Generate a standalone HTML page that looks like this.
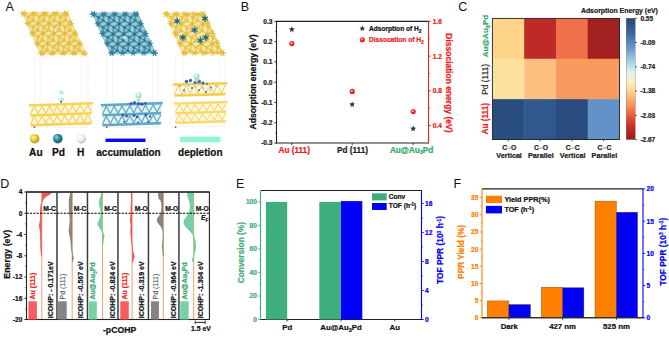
<!DOCTYPE html><html><head><meta charset="utf-8"><style>html,body{margin:0;padding:0;background:#fff;width:669px;height:337px;overflow:hidden}svg{display:block}text{font-family:"Liberation Sans",sans-serif}</style></head><body>
<svg width="669" height="337" viewBox="0 0 669 337">
<rect width="669" height="337" fill="#fff"/>
<text x="5.50" y="10.70" font-size="12.5" font-weight="normal" fill="#111" text-anchor="start" >A</text>
<text x="240.80" y="10.80" font-size="12.5" font-weight="normal" fill="#111" text-anchor="start" >B</text>
<text x="458.20" y="10.90" font-size="12.5" font-weight="normal" fill="#111" text-anchor="start" >C</text>
<text x="0.20" y="188.00" font-size="12.5" font-weight="normal" fill="#111" text-anchor="start" >D</text>
<text x="235.90" y="187.90" font-size="12.5" font-weight="normal" fill="#111" text-anchor="start" >E</text>
<text x="453.50" y="187.90" font-size="12.5" font-weight="normal" fill="#111" text-anchor="start" >F</text>
<line x1="276.50" y1="21.40" x2="428.50" y2="21.40" stroke="#222" stroke-width="1.1" />
<line x1="276.50" y1="20.90" x2="276.50" y2="143.50" stroke="#222" stroke-width="1.1" />
<line x1="276.50" y1="143.00" x2="428.50" y2="143.00" stroke="#222" stroke-width="1.1" />
<line x1="428.50" y1="20.90" x2="428.50" y2="143.50" stroke="#F01C1C" stroke-width="1.1" />
<line x1="274.30" y1="21.40" x2="276.50" y2="21.40" stroke="#222" stroke-width="0.9" />
<text x="272.50" y="23.80" font-size="6.6" font-weight="bold" fill="#222" text-anchor="end" stroke="#222" stroke-width="0.22" >0.3</text>
<line x1="275.30" y1="31.53" x2="276.50" y2="31.53" stroke="#222" stroke-width="0.8" />
<line x1="274.30" y1="41.67" x2="276.50" y2="41.67" stroke="#222" stroke-width="0.9" />
<text x="272.50" y="44.07" font-size="6.6" font-weight="bold" fill="#222" text-anchor="end" stroke="#222" stroke-width="0.22" >0.2</text>
<line x1="275.30" y1="51.80" x2="276.50" y2="51.80" stroke="#222" stroke-width="0.8" />
<line x1="274.30" y1="61.93" x2="276.50" y2="61.93" stroke="#222" stroke-width="0.9" />
<text x="272.50" y="64.33" font-size="6.6" font-weight="bold" fill="#222" text-anchor="end" stroke="#222" stroke-width="0.22" >0.1</text>
<line x1="275.30" y1="72.07" x2="276.50" y2="72.07" stroke="#222" stroke-width="0.8" />
<line x1="274.30" y1="82.20" x2="276.50" y2="82.20" stroke="#222" stroke-width="0.9" />
<text x="272.50" y="84.60" font-size="6.6" font-weight="bold" fill="#222" text-anchor="end" stroke="#222" stroke-width="0.22" >0.0</text>
<line x1="275.30" y1="92.33" x2="276.50" y2="92.33" stroke="#222" stroke-width="0.8" />
<line x1="274.30" y1="102.47" x2="276.50" y2="102.47" stroke="#222" stroke-width="0.9" />
<text x="272.50" y="104.87" font-size="6.6" font-weight="bold" fill="#222" text-anchor="end" stroke="#222" stroke-width="0.22" >-0.1</text>
<line x1="275.30" y1="112.60" x2="276.50" y2="112.60" stroke="#222" stroke-width="0.8" />
<line x1="274.30" y1="122.73" x2="276.50" y2="122.73" stroke="#222" stroke-width="0.9" />
<text x="272.50" y="125.13" font-size="6.6" font-weight="bold" fill="#222" text-anchor="end" stroke="#222" stroke-width="0.22" >-0.2</text>
<line x1="275.30" y1="132.87" x2="276.50" y2="132.87" stroke="#222" stroke-width="0.8" />
<line x1="274.30" y1="143.00" x2="276.50" y2="143.00" stroke="#222" stroke-width="0.9" />
<text x="272.50" y="145.40" font-size="6.6" font-weight="bold" fill="#222" text-anchor="end" stroke="#222" stroke-width="0.22" >-0.3</text>
<line x1="428.50" y1="21.40" x2="430.70" y2="21.40" stroke="#F01C1C" stroke-width="0.9" />
<text x="432.70" y="23.80" font-size="6.6" font-weight="bold" fill="#F01C1C" text-anchor="start" stroke="#F01C1C" stroke-width="0.22" >1.6</text>
<line x1="428.50" y1="56.10" x2="430.70" y2="56.10" stroke="#F01C1C" stroke-width="0.9" />
<text x="432.70" y="58.50" font-size="6.6" font-weight="bold" fill="#F01C1C" text-anchor="start" stroke="#F01C1C" stroke-width="0.22" >1.2</text>
<line x1="428.50" y1="90.80" x2="430.70" y2="90.80" stroke="#F01C1C" stroke-width="0.9" />
<text x="432.70" y="93.20" font-size="6.6" font-weight="bold" fill="#F01C1C" text-anchor="start" stroke="#F01C1C" stroke-width="0.22" >0.8</text>
<line x1="428.50" y1="125.50" x2="430.70" y2="125.50" stroke="#F01C1C" stroke-width="0.9" />
<text x="432.70" y="127.90" font-size="6.6" font-weight="bold" fill="#F01C1C" text-anchor="start" stroke="#F01C1C" stroke-width="0.22" >0.4</text>
<line x1="428.50" y1="38.75" x2="429.80" y2="38.75" stroke="#F01C1C" stroke-width="0.8" />
<line x1="428.50" y1="73.45" x2="429.80" y2="73.45" stroke="#F01C1C" stroke-width="0.8" />
<line x1="428.50" y1="108.15" x2="429.80" y2="108.15" stroke="#F01C1C" stroke-width="0.8" />
<line x1="291.80" y1="143.00" x2="291.80" y2="145.00" stroke="#222" stroke-width="0.9" />
<line x1="352.20" y1="143.00" x2="352.20" y2="145.00" stroke="#222" stroke-width="0.9" />
<line x1="413.20" y1="143.00" x2="413.20" y2="145.00" stroke="#222" stroke-width="0.9" />
<text x="294.20" y="152.60" font-size="8.2" font-weight="bold" fill="#F01C1C" text-anchor="middle" stroke="#F01C1C" stroke-width="0.22" >Au (111)</text>
<text x="352.50" y="152.60" font-size="8.2" font-weight="bold" fill="#222" text-anchor="middle" stroke="#222" stroke-width="0.22" >Pd (111)</text>
<text x="411.60" y="152.60" font-size="8.2" font-weight="bold" fill="#2FA86A" text-anchor="middle" stroke="#2FA86A" stroke-width="0.22" >Au@Au<tspan font-size="5.6" dy="1.6">3</tspan><tspan dy="-1.6">Pd</tspan></text>
<text x="256.20" y="81.90" font-size="8.6" font-weight="bold" fill="#111" text-anchor="middle" transform="rotate(-90 256.2 81.9)" stroke="#111" stroke-width="0.22" >Adsorption energy (eV)</text>
<text x="446.00" y="82.90" font-size="8.5" font-weight="bold" fill="#F01C1C" text-anchor="middle" transform="rotate(90 446.0 82.9)" stroke="#F01C1C" stroke-width="0.22" >Dissociation energy (eV)</text>
<defs><radialGradient id="rball" cx="0.42" cy="0.4" r="0.62"><stop offset="0" stop-color="#fff4f4"/><stop offset="0.25" stop-color="#ff8080"/><stop offset="0.5" stop-color="#f22"/><stop offset="1" stop-color="#e01010"/></radialGradient></defs>
<polygon points="291.80,26.40 292.64,28.35 294.75,28.54 293.16,29.94 293.62,32.01 291.80,30.93 289.98,32.01 290.44,29.94 288.85,28.54 290.96,28.35" fill="#383838"/>
<circle cx="291.8" cy="43.6" r="2.55" fill="url(#rball)"/>
<polygon points="352.20,101.40 353.04,103.35 355.15,103.54 353.56,104.94 354.02,107.01 352.20,105.93 350.38,107.01 350.84,104.94 349.25,103.54 351.36,103.35" fill="#383838"/>
<circle cx="352.2" cy="91.4" r="2.55" fill="url(#rball)"/>
<polygon points="413.20,125.60 414.04,127.55 416.15,127.74 414.56,129.14 415.02,131.21 413.20,130.13 411.38,131.21 411.84,129.14 410.25,127.74 412.36,127.55" fill="#383838"/>
<circle cx="413.2" cy="111.5" r="2.55" fill="url(#rball)"/>
<polygon points="362.30,25.50 363.14,27.45 365.25,27.64 363.66,29.04 364.12,31.11 362.30,30.03 360.48,31.11 360.94,29.04 359.35,27.64 361.46,27.45" fill="#383838"/>
<text x="369.00" y="31.00" font-size="6.6" font-weight="bold" fill="#111" text-anchor="start" stroke="#111" stroke-width="0.22" >Adsorption of H<tspan font-size="5" dy="1.5">2</tspan></text>
<circle cx="362.3" cy="39.7" r="2.55" fill="url(#rball)"/>
<text x="369.00" y="42.00" font-size="6.6" font-weight="bold" fill="#F01C1C" text-anchor="start" stroke="#F01C1C" stroke-width="0.22" >Dissocation of H<tspan font-size="5" dy="1.5">2</tspan></text>
<rect x="492.40" y="18.40" width="32.08" height="40.67" fill="#FDD48A" />
<rect x="524.17" y="18.40" width="32.08" height="40.67" fill="#BE2A25" />
<rect x="555.95" y="18.40" width="32.08" height="40.67" fill="#EF7049" />
<rect x="587.73" y="18.40" width="32.08" height="40.67" fill="#A2201F" />
<rect x="492.40" y="58.77" width="32.08" height="40.67" fill="#FCE19E" />
<rect x="524.17" y="58.77" width="32.08" height="40.67" fill="#FDC080" />
<rect x="555.95" y="58.77" width="32.08" height="40.67" fill="#F99B5E" />
<rect x="587.73" y="58.77" width="32.08" height="40.67" fill="#F99B5E" />
<rect x="492.40" y="99.13" width="32.08" height="40.67" fill="#2A4D80" />
<rect x="524.17" y="99.13" width="32.08" height="40.67" fill="#30578E" />
<rect x="555.95" y="99.13" width="32.08" height="40.67" fill="#2A4B7E" />
<rect x="587.73" y="99.13" width="32.08" height="40.67" fill="#6292C8" />
<rect x="492.4" y="18.4" width="127.10000000000002" height="121.1" fill="none" stroke="#222" stroke-width="0.9"/>
<line x1="508.29" y1="139.50" x2="508.29" y2="141.30" stroke="#222" stroke-width="0.8" />
<line x1="540.06" y1="139.50" x2="540.06" y2="141.30" stroke="#222" stroke-width="0.8" />
<line x1="571.84" y1="139.50" x2="571.84" y2="141.30" stroke="#222" stroke-width="0.8" />
<line x1="603.61" y1="139.50" x2="603.61" y2="141.30" stroke="#222" stroke-width="0.8" />
<text x="507.19" y="149.70" font-size="6.8" font-weight="bold" fill="#222" text-anchor="end" stroke="#222" stroke-width="0.22" >C</text>
<text x="511.09" y="149.70" font-size="6.8" font-weight="bold" fill="#222" text-anchor="start" stroke="#222" stroke-width="0.22" >O</text>
<rect x="507.19" y="147.20" width="3.90" height="1.80" fill="#C4C4C4" />
<text x="509.09" y="158.20" font-size="7.2" font-weight="bold" fill="#222" text-anchor="middle" stroke="#222" stroke-width="0.22" >Vertical</text>
<text x="538.96" y="149.70" font-size="6.8" font-weight="bold" fill="#222" text-anchor="end" stroke="#222" stroke-width="0.22" >C</text>
<text x="542.86" y="149.70" font-size="6.8" font-weight="bold" fill="#222" text-anchor="start" stroke="#222" stroke-width="0.22" >O</text>
<rect x="538.96" y="147.20" width="3.90" height="1.80" fill="#C4C4C4" />
<text x="540.86" y="158.20" font-size="7.2" font-weight="bold" fill="#222" text-anchor="middle" stroke="#222" stroke-width="0.22" >Parallel</text>
<text x="570.74" y="149.70" font-size="6.8" font-weight="bold" fill="#222" text-anchor="end" stroke="#222" stroke-width="0.22" >C</text>
<text x="574.64" y="149.70" font-size="6.8" font-weight="bold" fill="#222" text-anchor="start" stroke="#222" stroke-width="0.22" >C</text>
<rect x="570.74" y="147.20" width="3.90" height="1.80" fill="#C4C4C4" />
<text x="572.64" y="158.20" font-size="7.2" font-weight="bold" fill="#222" text-anchor="middle" stroke="#222" stroke-width="0.22" >Vertical</text>
<text x="602.51" y="149.70" font-size="6.8" font-weight="bold" fill="#222" text-anchor="end" stroke="#222" stroke-width="0.22" >C</text>
<text x="606.41" y="149.70" font-size="6.8" font-weight="bold" fill="#222" text-anchor="start" stroke="#222" stroke-width="0.22" >C</text>
<rect x="602.51" y="147.20" width="3.90" height="1.80" fill="#C4C4C4" />
<text x="604.41" y="158.20" font-size="7.2" font-weight="bold" fill="#222" text-anchor="middle" stroke="#222" stroke-width="0.22" >Parallel</text>
<text x="488.20" y="36.10" font-size="8.0" font-weight="bold" fill="#2FA86A" text-anchor="middle" transform="rotate(-90 488.2 36.1)" stroke="#2FA86A" stroke-width="0.22" >Au@Au<tspan font-size="5.6" dy="1.6">3</tspan><tspan dy="-1.6">Pd</tspan></text>
<text x="488.20" y="79.30" font-size="8.4" font-weight="normal" fill="#222" text-anchor="middle" transform="rotate(-90 488.2 79.3)" stroke="#222" stroke-width="0.132" >Pd (111)</text>
<text x="488.20" y="118.70" font-size="8.2" font-weight="bold" fill="#F01C1C" text-anchor="middle" transform="rotate(-90 488.2 118.7)" stroke="#F01C1C" stroke-width="0.22" >Au (111)</text>
<defs><linearGradient id="cbar" x1="0" y1="0" x2="0" y2="1"><stop offset="0" stop-color="#26467A"/><stop offset="0.12" stop-color="#3A64A0"/><stop offset="0.25" stop-color="#6A9ACB"/><stop offset="0.36" stop-color="#A8D0E6"/><stop offset="0.45" stop-color="#E2F2F4"/><stop offset="0.53" stop-color="#FBF0B8"/><stop offset="0.62" stop-color="#FDCB80"/><stop offset="0.72" stop-color="#F7905A"/><stop offset="0.83" stop-color="#DE4A35"/><stop offset="0.93" stop-color="#B82225"/><stop offset="1" stop-color="#9C1C20"/></linearGradient></defs>
<rect x="626.2" y="18.2" width="9.0" height="121.39999999999999" fill="url(#cbar)" stroke="#555" stroke-width="0.3"/>
<line x1="635.20" y1="18.20" x2="637.00" y2="18.20" stroke="#222" stroke-width="0.8" />
<text x="640.40" y="20.50" font-size="6.5" font-weight="bold" fill="#222" text-anchor="start" stroke="#222" stroke-width="0.22" >0.55</text>
<line x1="635.20" y1="42.48" x2="637.00" y2="42.48" stroke="#222" stroke-width="0.8" />
<text x="640.40" y="44.78" font-size="6.5" font-weight="bold" fill="#222" text-anchor="start" stroke="#222" stroke-width="0.22" >-0.09</text>
<line x1="635.20" y1="66.76" x2="637.00" y2="66.76" stroke="#222" stroke-width="0.8" />
<text x="640.40" y="69.06" font-size="6.5" font-weight="bold" fill="#222" text-anchor="start" stroke="#222" stroke-width="0.22" >-0.74</text>
<line x1="635.20" y1="91.04" x2="637.00" y2="91.04" stroke="#222" stroke-width="0.8" />
<text x="640.40" y="93.34" font-size="6.5" font-weight="bold" fill="#222" text-anchor="start" stroke="#222" stroke-width="0.22" >-1.38</text>
<line x1="635.20" y1="115.32" x2="637.00" y2="115.32" stroke="#222" stroke-width="0.8" />
<text x="640.40" y="117.62" font-size="6.5" font-weight="bold" fill="#222" text-anchor="start" stroke="#222" stroke-width="0.22" >-2.03</text>
<line x1="635.20" y1="139.60" x2="637.00" y2="139.60" stroke="#222" stroke-width="0.8" />
<text x="640.40" y="141.90" font-size="6.5" font-weight="bold" fill="#222" text-anchor="start" stroke="#222" stroke-width="0.22" >-2.67</text>
<text x="657.90" y="13.20" font-size="6.9" font-weight="bold" fill="#222" text-anchor="end" stroke="#222" stroke-width="0.22" >Adsorption Energy (eV)</text>
<line x1="260.50" y1="190.50" x2="421.50" y2="190.50" stroke="#222" stroke-width="1.1" />
<line x1="260.50" y1="319.50" x2="421.50" y2="319.50" stroke="#222" stroke-width="1.1" />
<line x1="260.50" y1="190.00" x2="260.50" y2="320.00" stroke="#3DAE7C" stroke-width="1.1" />
<line x1="421.50" y1="190.00" x2="421.50" y2="320.00" stroke="#0000F5" stroke-width="1.1" />
<line x1="258.30" y1="319.50" x2="260.50" y2="319.50" stroke="#3DAE7C" stroke-width="0.9" />
<text x="256.90" y="321.90" font-size="6.6" font-weight="bold" fill="#3DAE7C" text-anchor="end" stroke="#3DAE7C" stroke-width="0.22" >0</text>
<line x1="259.30" y1="307.74" x2="260.50" y2="307.74" stroke="#3DAE7C" stroke-width="0.8" />
<line x1="258.30" y1="295.98" x2="260.50" y2="295.98" stroke="#3DAE7C" stroke-width="0.9" />
<text x="256.90" y="298.38" font-size="6.6" font-weight="bold" fill="#3DAE7C" text-anchor="end" stroke="#3DAE7C" stroke-width="0.22" >20</text>
<line x1="259.30" y1="284.22" x2="260.50" y2="284.22" stroke="#3DAE7C" stroke-width="0.8" />
<line x1="258.30" y1="272.46" x2="260.50" y2="272.46" stroke="#3DAE7C" stroke-width="0.9" />
<text x="256.90" y="274.86" font-size="6.6" font-weight="bold" fill="#3DAE7C" text-anchor="end" stroke="#3DAE7C" stroke-width="0.22" >40</text>
<line x1="259.30" y1="260.70" x2="260.50" y2="260.70" stroke="#3DAE7C" stroke-width="0.8" />
<line x1="258.30" y1="248.94" x2="260.50" y2="248.94" stroke="#3DAE7C" stroke-width="0.9" />
<text x="256.90" y="251.34" font-size="6.6" font-weight="bold" fill="#3DAE7C" text-anchor="end" stroke="#3DAE7C" stroke-width="0.22" >60</text>
<line x1="259.30" y1="237.18" x2="260.50" y2="237.18" stroke="#3DAE7C" stroke-width="0.8" />
<line x1="258.30" y1="225.42" x2="260.50" y2="225.42" stroke="#3DAE7C" stroke-width="0.9" />
<text x="256.90" y="227.82" font-size="6.6" font-weight="bold" fill="#3DAE7C" text-anchor="end" stroke="#3DAE7C" stroke-width="0.22" >80</text>
<line x1="259.30" y1="213.66" x2="260.50" y2="213.66" stroke="#3DAE7C" stroke-width="0.8" />
<line x1="258.30" y1="201.90" x2="260.50" y2="201.90" stroke="#3DAE7C" stroke-width="0.9" />
<text x="256.90" y="204.30" font-size="6.6" font-weight="bold" fill="#3DAE7C" text-anchor="end" stroke="#3DAE7C" stroke-width="0.22" >100</text>
<line x1="421.50" y1="319.50" x2="423.70" y2="319.50" stroke="#0000F5" stroke-width="0.9" />
<text x="425.10" y="321.90" font-size="6.6" font-weight="bold" fill="#0000F5" text-anchor="start" stroke="#0000F5" stroke-width="0.22" >0</text>
<line x1="421.50" y1="305.00" x2="422.70" y2="305.00" stroke="#0000F5" stroke-width="0.8" />
<line x1="421.50" y1="290.50" x2="423.70" y2="290.50" stroke="#0000F5" stroke-width="0.9" />
<text x="425.10" y="292.90" font-size="6.6" font-weight="bold" fill="#0000F5" text-anchor="start" stroke="#0000F5" stroke-width="0.22" >4</text>
<line x1="421.50" y1="276.00" x2="422.70" y2="276.00" stroke="#0000F5" stroke-width="0.8" />
<line x1="421.50" y1="261.50" x2="423.70" y2="261.50" stroke="#0000F5" stroke-width="0.9" />
<text x="425.10" y="263.90" font-size="6.6" font-weight="bold" fill="#0000F5" text-anchor="start" stroke="#0000F5" stroke-width="0.22" >8</text>
<line x1="421.50" y1="247.00" x2="422.70" y2="247.00" stroke="#0000F5" stroke-width="0.8" />
<line x1="421.50" y1="232.50" x2="423.70" y2="232.50" stroke="#0000F5" stroke-width="0.9" />
<text x="425.10" y="234.90" font-size="6.6" font-weight="bold" fill="#0000F5" text-anchor="start" stroke="#0000F5" stroke-width="0.22" >12</text>
<line x1="421.50" y1="218.00" x2="422.70" y2="218.00" stroke="#0000F5" stroke-width="0.8" />
<line x1="421.50" y1="203.50" x2="423.70" y2="203.50" stroke="#0000F5" stroke-width="0.9" />
<text x="425.10" y="205.90" font-size="6.6" font-weight="bold" fill="#0000F5" text-anchor="start" stroke="#0000F5" stroke-width="0.22" >16</text>
<rect x="265.90" y="201.90" width="21.30" height="117.60" fill="#3DAE7C" />
<rect x="319.30" y="201.90" width="21.60" height="117.60" fill="#3DAE7C" />
<rect x="340.90" y="201.10" width="21.40" height="118.40" fill="#0000F5" />
<line x1="287.10" y1="319.50" x2="287.10" y2="321.50" stroke="#222" stroke-width="0.9" />
<line x1="341.00" y1="319.50" x2="341.00" y2="321.50" stroke="#222" stroke-width="0.9" />
<line x1="394.80" y1="319.50" x2="394.80" y2="321.50" stroke="#222" stroke-width="0.9" />
<text x="287.20" y="330.00" font-size="7.8" font-weight="bold" fill="#111" text-anchor="middle" stroke="#111" stroke-width="0.22" >Pd</text>
<text x="341.00" y="330.00" font-size="7.8" font-weight="bold" fill="#111" text-anchor="middle" stroke="#111" stroke-width="0.22" >Au@Au<tspan font-size="5.4" dy="1.6">3</tspan><tspan dy="-1.6">Pd</tspan></text>
<text x="394.80" y="330.00" font-size="7.8" font-weight="bold" fill="#111" text-anchor="middle" stroke="#111" stroke-width="0.22" >Au</text>
<text x="244.00" y="252.60" font-size="8.4" font-weight="bold" fill="#3DAE7C" text-anchor="middle" transform="rotate(-90 244.0 252.6)" stroke="#3DAE7C" stroke-width="0.22" >Conversion (%)</text>
<text x="443.30" y="250.00" font-size="8.4" font-weight="bold" fill="#0000F5" text-anchor="middle" transform="rotate(-90 443.3 250.0)" stroke="#0000F5" stroke-width="0.22" >TOF PPR (10<tspan font-size="5" dy="-2.5">3</tspan><tspan dy="2.5"> h</tspan><tspan font-size="5" dy="-2.5">-1</tspan><tspan dy="2.5">)</tspan></text>
<rect x="372.00" y="193.30" width="14.70" height="7.10" fill="#3DAE7C" />
<rect x="372.00" y="203.00" width="14.70" height="7.00" fill="#0000F5" />
<text x="388.80" y="199.00" font-size="6.6" font-weight="bold" fill="#111" text-anchor="start" stroke="#111" stroke-width="0.22" >Conv</text>
<text x="388.80" y="208.20" font-size="6.6" font-weight="bold" fill="#111" text-anchor="start" stroke="#111" stroke-width="0.22" >TOF (h<tspan font-size="4.6" dy="-2.3">-1</tspan><tspan dy="2.3">)</tspan></text>
<line x1="482.00" y1="188.90" x2="643.00" y2="188.90" stroke="#222" stroke-width="1.1" />
<line x1="482.00" y1="317.80" x2="643.00" y2="317.80" stroke="#222" stroke-width="1.1" />
<line x1="482.00" y1="188.40" x2="482.00" y2="318.30" stroke="#FF8000" stroke-width="1.1" />
<line x1="643.00" y1="188.40" x2="643.00" y2="318.30" stroke="#0000F5" stroke-width="1.1" />
<line x1="479.80" y1="317.80" x2="482.00" y2="317.80" stroke="#FF8000" stroke-width="0.9" />
<text x="478.40" y="320.20" font-size="6.6" font-weight="bold" fill="#FF8000" text-anchor="end" stroke="#FF8000" stroke-width="0.22" >0</text>
<line x1="480.80" y1="309.21" x2="482.00" y2="309.21" stroke="#FF8000" stroke-width="0.8" />
<line x1="479.80" y1="300.63" x2="482.00" y2="300.63" stroke="#FF8000" stroke-width="0.9" />
<text x="478.40" y="303.03" font-size="6.6" font-weight="bold" fill="#FF8000" text-anchor="end" stroke="#FF8000" stroke-width="0.22" >5</text>
<line x1="480.80" y1="292.04" x2="482.00" y2="292.04" stroke="#FF8000" stroke-width="0.8" />
<line x1="479.80" y1="283.46" x2="482.00" y2="283.46" stroke="#FF8000" stroke-width="0.9" />
<text x="478.40" y="285.86" font-size="6.6" font-weight="bold" fill="#FF8000" text-anchor="end" stroke="#FF8000" stroke-width="0.22" >10</text>
<line x1="480.80" y1="274.87" x2="482.00" y2="274.87" stroke="#FF8000" stroke-width="0.8" />
<line x1="479.80" y1="266.29" x2="482.00" y2="266.29" stroke="#FF8000" stroke-width="0.9" />
<text x="478.40" y="268.69" font-size="6.6" font-weight="bold" fill="#FF8000" text-anchor="end" stroke="#FF8000" stroke-width="0.22" >15</text>
<line x1="480.80" y1="257.70" x2="482.00" y2="257.70" stroke="#FF8000" stroke-width="0.8" />
<line x1="479.80" y1="249.11" x2="482.00" y2="249.11" stroke="#FF8000" stroke-width="0.9" />
<text x="478.40" y="251.51" font-size="6.6" font-weight="bold" fill="#FF8000" text-anchor="end" stroke="#FF8000" stroke-width="0.22" >20</text>
<line x1="480.80" y1="240.53" x2="482.00" y2="240.53" stroke="#FF8000" stroke-width="0.8" />
<line x1="479.80" y1="231.94" x2="482.00" y2="231.94" stroke="#FF8000" stroke-width="0.9" />
<text x="478.40" y="234.34" font-size="6.6" font-weight="bold" fill="#FF8000" text-anchor="end" stroke="#FF8000" stroke-width="0.22" >25</text>
<line x1="480.80" y1="223.36" x2="482.00" y2="223.36" stroke="#FF8000" stroke-width="0.8" />
<line x1="479.80" y1="214.77" x2="482.00" y2="214.77" stroke="#FF8000" stroke-width="0.9" />
<text x="478.40" y="217.17" font-size="6.6" font-weight="bold" fill="#FF8000" text-anchor="end" stroke="#FF8000" stroke-width="0.22" >30</text>
<line x1="480.80" y1="206.19" x2="482.00" y2="206.19" stroke="#FF8000" stroke-width="0.8" />
<line x1="479.80" y1="197.60" x2="482.00" y2="197.60" stroke="#FF8000" stroke-width="0.9" />
<text x="478.40" y="200.00" font-size="6.6" font-weight="bold" fill="#FF8000" text-anchor="end" stroke="#FF8000" stroke-width="0.22" >35</text>
<line x1="643.00" y1="317.80" x2="645.20" y2="317.80" stroke="#0000F5" stroke-width="0.9" />
<text x="646.60" y="320.20" font-size="6.6" font-weight="bold" fill="#0000F5" text-anchor="start" stroke="#0000F5" stroke-width="0.22" >0</text>
<line x1="643.00" y1="301.69" x2="644.20" y2="301.69" stroke="#0000F5" stroke-width="0.8" />
<line x1="643.00" y1="285.57" x2="645.20" y2="285.57" stroke="#0000F5" stroke-width="0.9" />
<text x="646.60" y="287.97" font-size="6.6" font-weight="bold" fill="#0000F5" text-anchor="start" stroke="#0000F5" stroke-width="0.22" >5</text>
<line x1="643.00" y1="269.46" x2="644.20" y2="269.46" stroke="#0000F5" stroke-width="0.8" />
<line x1="643.00" y1="253.35" x2="645.20" y2="253.35" stroke="#0000F5" stroke-width="0.9" />
<text x="646.60" y="255.75" font-size="6.6" font-weight="bold" fill="#0000F5" text-anchor="start" stroke="#0000F5" stroke-width="0.22" >10</text>
<line x1="643.00" y1="237.24" x2="644.20" y2="237.24" stroke="#0000F5" stroke-width="0.8" />
<line x1="643.00" y1="221.12" x2="645.20" y2="221.12" stroke="#0000F5" stroke-width="0.9" />
<text x="646.60" y="223.53" font-size="6.6" font-weight="bold" fill="#0000F5" text-anchor="start" stroke="#0000F5" stroke-width="0.22" >15</text>
<line x1="643.00" y1="205.01" x2="644.20" y2="205.01" stroke="#0000F5" stroke-width="0.8" />
<line x1="643.00" y1="188.90" x2="645.20" y2="188.90" stroke="#0000F5" stroke-width="0.9" />
<text x="646.60" y="191.30" font-size="6.6" font-weight="bold" fill="#0000F5" text-anchor="start" stroke="#0000F5" stroke-width="0.22" >20</text>
<rect x="487.30" y="300.90" width="21.60" height="16.90" fill="#FF8000" stroke="#6a3a10" stroke-width="0.35"/>
<rect x="508.90" y="304.50" width="21.60" height="13.30" fill="#0000F5" stroke="#6a3a10" stroke-width="0.35"/>
<rect x="541.30" y="287.20" width="21.40" height="30.60" fill="#FF8000" stroke="#6a3a10" stroke-width="0.35"/>
<rect x="562.70" y="287.70" width="21.20" height="30.10" fill="#0000F5" stroke="#6a3a10" stroke-width="0.35"/>
<rect x="595.00" y="201.10" width="21.40" height="116.70" fill="#FF8000" stroke="#6a3a10" stroke-width="0.35"/>
<rect x="616.40" y="212.20" width="21.20" height="105.60" fill="#0000F5" stroke="#6a3a10" stroke-width="0.35"/>
<line x1="482.00" y1="317.80" x2="643.00" y2="317.80" stroke="#222" stroke-width="1.1" />
<line x1="508.90" y1="317.80" x2="508.90" y2="319.80" stroke="#222" stroke-width="0.9" />
<line x1="562.70" y1="317.80" x2="562.70" y2="319.80" stroke="#222" stroke-width="0.9" />
<line x1="616.40" y1="317.80" x2="616.40" y2="319.80" stroke="#222" stroke-width="0.9" />
<text x="509.30" y="328.80" font-size="7.7" font-weight="bold" fill="#111" text-anchor="middle" stroke="#111" stroke-width="0.22" >Dark</text>
<text x="562.60" y="328.80" font-size="7.8" font-weight="bold" fill="#111" text-anchor="middle" stroke="#111" stroke-width="0.22" >427 nm</text>
<text x="616.40" y="328.80" font-size="7.8" font-weight="bold" fill="#111" text-anchor="middle" stroke="#111" stroke-width="0.22" >525 nm</text>
<text x="463.60" y="251.90" font-size="8.3" font-weight="bold" fill="#FF8000" text-anchor="middle" transform="rotate(-90 463.6 251.9)" stroke="#FF8000" stroke-width="0.22" >PPR Yield (%)</text>
<text x="665.70" y="251.60" font-size="8.4" font-weight="bold" fill="#0000F5" text-anchor="middle" transform="rotate(-90 665.7 251.6)" stroke="#0000F5" stroke-width="0.22" >TOF PPR (10<tspan font-size="5" dy="-2.5">3</tspan><tspan dy="2.5"> h</tspan><tspan font-size="5" dy="-2.5">-1</tspan><tspan dy="2.5">)</tspan></text>
<rect x="485.90" y="195.70" width="16.10" height="7.30" fill="#FF8000" />
<rect x="485.90" y="205.90" width="16.10" height="7.50" fill="#0000F5" />
<text x="504.40" y="201.90" font-size="7.3" font-weight="bold" fill="#111" text-anchor="start" stroke="#111" stroke-width="0.22" >Yield PPR(%)</text>
<text x="504.40" y="212.10" font-size="7.2" font-weight="bold" fill="#111" text-anchor="start" stroke="#111" stroke-width="0.22" >TOF (h<tspan font-size="4.9" dy="-2.4">-1</tspan><tspan dy="2.4">)</tspan></text>
<line x1="41.80" y1="192.00" x2="41.80" y2="319.50" stroke="#F0A468" stroke-width="1.0" />
<polygon points="41.80,192.40 51.40,192.40 50.60,193.60 48.60,195.00 46.00,196.50 44.20,198.00 43.20,199.50 42.20,201.50 41.20,204.00 40.70,208.00 40.50,214.00 40.40,220.00 39.90,223.00 39.20,225.50 39.80,228.00 40.50,232.00 40.70,240.00 40.80,248.00 41.20,253.00 41.80,256.00 41.80,256.00" fill="#F45858"/>
<polyline points="51.40,192.40 50.60,193.60 48.60,195.00 46.00,196.50 44.20,198.00 43.20,199.50 42.20,201.50 41.20,204.00 40.70,208.00 40.50,214.00 40.40,220.00 39.90,223.00 39.20,225.50 39.80,228.00 40.50,232.00 40.70,240.00 40.80,248.00 41.20,253.00 41.80,256.00" fill="none" stroke="#F2474A" stroke-width="0.8"/>
<line x1="72.20" y1="192.00" x2="72.20" y2="319.50" stroke="#F0A468" stroke-width="1.0" />
<polygon points="72.20,192.40 70.80,192.40 70.00,196.00 69.40,200.00 69.20,206.00 69.60,213.00 70.20,219.00 69.80,225.00 69.00,230.00 69.80,235.00 71.00,241.00 71.40,248.00 72.40,254.00 73.40,258.00 72.20,262.00 72.20,262.00" fill="#858585"/>
<polyline points="70.80,192.40 70.00,196.00 69.40,200.00 69.20,206.00 69.60,213.00 70.20,219.00 69.80,225.00 69.00,230.00 69.80,235.00 71.00,241.00 71.40,248.00 72.40,254.00 73.40,258.00 72.20,262.00" fill="none" stroke="#7A7A7A" stroke-width="0.8"/>
<line x1="102.50" y1="192.00" x2="102.50" y2="319.50" stroke="#F0A468" stroke-width="1.0" />
<polygon points="102.50,192.40 101.90,192.40 101.30,196.00 99.70,200.00 99.20,203.00 100.10,207.00 101.10,212.00 100.70,217.00 98.90,221.00 97.90,224.00 99.30,227.00 101.30,230.00 103.10,233.00 104.10,236.00 103.30,240.00 102.50,246.00 102.50,246.00" fill="#74CFA4"/>
<polyline points="101.90,192.40 101.30,196.00 99.70,200.00 99.20,203.00 100.10,207.00 101.10,212.00 100.70,217.00 98.90,221.00 97.90,224.00 99.30,227.00 101.30,230.00 103.10,233.00 104.10,236.00 103.30,240.00 102.50,246.00" fill="none" stroke="#5CC592" stroke-width="0.8"/>
<line x1="132.10" y1="192.00" x2="132.10" y2="319.50" stroke="#F0A468" stroke-width="1.0" />
<polygon points="132.10,192.40 131.40,192.40 131.60,200.00 131.10,206.00 131.00,213.00 130.50,220.00 131.10,226.00 130.80,232.00 131.30,238.00 132.10,245.00 132.90,252.00 134.30,256.00 133.50,259.00 132.10,263.00 132.10,263.00" fill="#F45858"/>
<polyline points="131.40,192.40 131.60,200.00 131.10,206.00 131.00,213.00 130.50,220.00 131.10,226.00 130.80,232.00 131.30,238.00 132.10,245.00 132.90,252.00 134.30,256.00 133.50,259.00 132.10,263.00" fill="none" stroke="#F2474A" stroke-width="0.8"/>
<line x1="163.30" y1="192.00" x2="163.30" y2="319.50" stroke="#F0A468" stroke-width="1.0" />
<polygon points="163.30,192.40 158.50,192.40 158.50,196.00 159.10,198.50 160.70,200.50 161.70,203.00 161.90,208.00 161.50,212.00 160.10,215.00 157.90,218.00 157.10,220.00 158.30,223.00 160.70,226.00 162.50,229.00 163.30,232.00 163.00,240.00 162.40,246.00 162.80,250.00 163.30,256.00 163.30,256.00" fill="#858585"/>
<polyline points="158.50,192.40 158.50,196.00 159.10,198.50 160.70,200.50 161.70,203.00 161.90,208.00 161.50,212.00 160.10,215.00 157.90,218.00 157.10,220.00 158.30,223.00 160.70,226.00 162.50,229.00 163.30,232.00 163.00,240.00 162.40,246.00 162.80,250.00 163.30,256.00" fill="none" stroke="#7A7A7A" stroke-width="0.8"/>
<line x1="193.70" y1="192.00" x2="193.70" y2="319.50" stroke="#F0A468" stroke-width="1.0" />
<polygon points="193.70,192.40 187.70,192.40 187.90,196.00 189.10,200.00 190.30,204.00 190.30,208.00 189.70,212.00 187.50,216.00 185.10,219.00 183.80,222.00 185.30,226.00 188.20,229.00 191.20,232.00 193.10,235.00 194.10,238.00 195.30,242.00 195.50,248.00 194.30,253.00 193.30,257.00 192.30,260.00 193.70,263.00 193.70,263.00" fill="#74CFA4"/>
<polyline points="187.70,192.40 187.90,196.00 189.10,200.00 190.30,204.00 190.30,208.00 189.70,212.00 187.50,216.00 185.10,219.00 183.80,222.00 185.30,226.00 188.20,229.00 191.20,232.00 193.10,235.00 194.10,238.00 195.30,242.00 195.50,248.00 194.30,253.00 193.30,257.00 192.30,260.00 193.70,263.00" fill="none" stroke="#5CC592" stroke-width="0.8"/>
<line x1="56.98" y1="192.00" x2="56.98" y2="319.50" stroke="#3C3C3C" stroke-width="1.5" />
<line x1="87.47" y1="192.00" x2="87.47" y2="319.50" stroke="#3C3C3C" stroke-width="1.5" />
<line x1="117.95" y1="192.00" x2="117.95" y2="319.50" stroke="#3C3C3C" stroke-width="1.5" />
<line x1="148.43" y1="192.00" x2="148.43" y2="319.50" stroke="#3C3C3C" stroke-width="1.5" />
<line x1="178.92" y1="192.00" x2="178.92" y2="319.50" stroke="#3C3C3C" stroke-width="1.5" />
<rect x="26.5" y="192.0" width="182.90" height="127.50" fill="none" stroke="#222" stroke-width="1.1"/>
<line x1="26.50" y1="192.00" x2="209.40" y2="192.00" stroke="#333" stroke-width="1.4" />
<line x1="26.50" y1="213.25" x2="209.40" y2="213.25" stroke="#000" stroke-width="1.2" stroke-dasharray="2.2 1.2"/>
<line x1="24.30" y1="192.00" x2="26.50" y2="192.00" stroke="#222" stroke-width="0.9" />
<text x="22.30" y="194.40" font-size="6.6" font-weight="bold" fill="#111" text-anchor="end" stroke="#111" stroke-width="0.22" >4</text>
<line x1="25.30" y1="202.62" x2="26.50" y2="202.62" stroke="#222" stroke-width="0.8" />
<line x1="24.30" y1="213.25" x2="26.50" y2="213.25" stroke="#222" stroke-width="0.9" />
<text x="22.30" y="215.65" font-size="6.6" font-weight="bold" fill="#111" text-anchor="end" stroke="#111" stroke-width="0.22" >0</text>
<line x1="25.30" y1="223.88" x2="26.50" y2="223.88" stroke="#222" stroke-width="0.8" />
<line x1="24.30" y1="234.50" x2="26.50" y2="234.50" stroke="#222" stroke-width="0.9" />
<text x="22.30" y="236.90" font-size="6.6" font-weight="bold" fill="#111" text-anchor="end" stroke="#111" stroke-width="0.22" >-4</text>
<line x1="25.30" y1="245.12" x2="26.50" y2="245.12" stroke="#222" stroke-width="0.8" />
<line x1="24.30" y1="255.75" x2="26.50" y2="255.75" stroke="#222" stroke-width="0.9" />
<text x="22.30" y="258.15" font-size="6.6" font-weight="bold" fill="#111" text-anchor="end" stroke="#111" stroke-width="0.22" >-8</text>
<line x1="25.30" y1="266.38" x2="26.50" y2="266.38" stroke="#222" stroke-width="0.8" />
<line x1="24.30" y1="277.00" x2="26.50" y2="277.00" stroke="#222" stroke-width="0.9" />
<text x="22.30" y="279.40" font-size="6.6" font-weight="bold" fill="#111" text-anchor="end" stroke="#111" stroke-width="0.22" >-12</text>
<line x1="25.30" y1="287.62" x2="26.50" y2="287.62" stroke="#222" stroke-width="0.8" />
<line x1="24.30" y1="298.25" x2="26.50" y2="298.25" stroke="#222" stroke-width="0.9" />
<text x="22.30" y="300.65" font-size="6.6" font-weight="bold" fill="#111" text-anchor="end" stroke="#111" stroke-width="0.22" >-16</text>
<line x1="25.30" y1="308.88" x2="26.50" y2="308.88" stroke="#222" stroke-width="0.8" />
<line x1="24.30" y1="319.50" x2="26.50" y2="319.50" stroke="#222" stroke-width="0.9" />
<text x="22.30" y="321.90" font-size="6.6" font-weight="bold" fill="#111" text-anchor="end" stroke="#111" stroke-width="0.22" >-20</text>
<text x="9.90" y="254.20" font-size="8.8" font-weight="bold" fill="#111" text-anchor="middle" transform="rotate(-90 9.9 254.2)" stroke="#111" stroke-width="0.22" >Energy (eV)</text>
<text x="43.28" y="211.00" font-size="6.7" font-weight="bold" fill="#111" text-anchor="start" stroke="#111" stroke-width="0.22" >M-C</text>
<text x="73.77" y="211.00" font-size="6.7" font-weight="bold" fill="#111" text-anchor="start" stroke="#111" stroke-width="0.22" >M-C</text>
<text x="104.25" y="211.00" font-size="6.7" font-weight="bold" fill="#111" text-anchor="start" stroke="#111" stroke-width="0.22" >M-C</text>
<text x="134.73" y="211.00" font-size="6.7" font-weight="bold" fill="#111" text-anchor="start" stroke="#111" stroke-width="0.22" >M-O</text>
<text x="165.22" y="211.00" font-size="6.7" font-weight="bold" fill="#111" text-anchor="start" stroke="#111" stroke-width="0.22" >M-O</text>
<text x="195.70" y="211.00" font-size="6.7" font-weight="bold" fill="#111" text-anchor="start" stroke="#111" stroke-width="0.22" >M-O</text>
<text x="204.60" y="220.40" font-size="6.8" font-weight="bold" fill="#111" text-anchor="middle" stroke="#111" stroke-width="0.22" ><tspan font-style="italic">E</tspan><tspan font-size="4.5" dy="1.2" font-style="italic">F</tspan></text>
<rect x="28.40" y="301.30" width="8.50" height="18.20" fill="#F85C5E" />
<text x="35.25" y="299.50" font-size="7.0" font-weight="bold" fill="#F01C1C" text-anchor="start" transform="rotate(-90 35.25 299.5)" stroke="#F01C1C" stroke-width="0.22" >Au (111)</text>
<text x="53.50" y="318.20" font-size="7.0" font-weight="bold" fill="#111" text-anchor="start" transform="rotate(-90 53.5 318.2)" stroke="#111" stroke-width="0.22" >ICOHP: - 0.171eV</text>
<rect x="58.10" y="301.30" width="8.60" height="18.20" fill="#848484" />
<text x="65.00" y="299.50" font-size="7.0" font-weight="normal" fill="#555" text-anchor="start" transform="rotate(-90 65.0 299.5)" stroke="#555" stroke-width="0.132" >Pd (111)</text>
<text x="83.50" y="318.20" font-size="7.0" font-weight="bold" fill="#111" text-anchor="start" transform="rotate(-90 83.5 318.2)" stroke="#111" stroke-width="0.22" >ICOHP: -0.567 eV</text>
<rect x="88.80" y="301.30" width="8.00" height="18.20" fill="#78D0A6" />
<text x="95.40" y="299.50" font-size="7.0" font-weight="bold" fill="#2FA86A" text-anchor="start" transform="rotate(-90 95.39999999999999 299.5)" stroke="#2FA86A" stroke-width="0.22" >Au@Au<tspan font-size="5" dy="1.5">3</tspan><tspan dy="-1.5">Pd</tspan></text>
<text x="114.70" y="318.20" font-size="7.0" font-weight="bold" fill="#111" text-anchor="start" transform="rotate(-90 114.7 318.2)" stroke="#111" stroke-width="0.22" >ICOHP: -0.824 eV</text>
<rect x="120.30" y="301.30" width="8.50" height="18.20" fill="#F85C5E" />
<text x="127.15" y="299.50" font-size="7.0" font-weight="bold" fill="#F01C1C" text-anchor="start" transform="rotate(-90 127.15 299.5)" stroke="#F01C1C" stroke-width="0.22" >Au (111)</text>
<text x="144.10" y="318.20" font-size="7.0" font-weight="bold" fill="#111" text-anchor="start" transform="rotate(-90 144.1 318.2)" stroke="#111" stroke-width="0.22" >ICOHP: -0.319 eV</text>
<rect x="151.00" y="301.30" width="7.90" height="18.20" fill="#848484" />
<text x="157.55" y="299.50" font-size="7.0" font-weight="normal" fill="#555" text-anchor="start" transform="rotate(-90 157.54999999999998 299.5)" stroke="#555" stroke-width="0.132" >Pd (111)</text>
<text x="175.70" y="318.20" font-size="7.0" font-weight="bold" fill="#111" text-anchor="start" transform="rotate(-90 175.7 318.2)" stroke="#111" stroke-width="0.22" >ICOHP: -0.964 eV</text>
<rect x="180.20" y="301.30" width="8.50" height="18.20" fill="#78D0A6" />
<text x="187.05" y="299.50" font-size="7.0" font-weight="bold" fill="#2FA86A" text-anchor="start" transform="rotate(-90 187.04999999999998 299.5)" stroke="#2FA86A" stroke-width="0.22" >Au@Au<tspan font-size="5" dy="1.5">3</tspan><tspan dy="-1.5">Pd</tspan></text>
<text x="203.40" y="318.20" font-size="7.0" font-weight="bold" fill="#111" text-anchor="start" transform="rotate(-90 203.4 318.2)" stroke="#111" stroke-width="0.22" >ICOHP: -1.304 eV</text>
<text x="119.60" y="333.20" font-size="8.7" font-weight="bold" fill="#111" text-anchor="middle" stroke="#111" stroke-width="0.22" >-pCOHP</text>
<line x1="195.20" y1="322.40" x2="205.20" y2="322.40" stroke="#111" stroke-width="0.9" />
<line x1="195.20" y1="320.60" x2="195.20" y2="324.20" stroke="#111" stroke-width="0.8" />
<line x1="205.20" y1="320.60" x2="205.20" y2="324.20" stroke="#111" stroke-width="0.8" />
<text x="200.90" y="330.80" font-size="6.9" font-weight="bold" fill="#111" text-anchor="middle" stroke="#111" stroke-width="0.22" >1.5 eV</text>
<defs>
<pattern id="pAu1" x="0" y="0" width="10.7" height="10.0" patternUnits="userSpaceOnUse" patternTransform="translate(23.1 13.5) skewX(25.05)">
 <rect width="10.7" height="10.0" fill="#F4E3A4"/><g stroke="#E2BE40" stroke-width="1.25"><line x1="0.000" y1="0.000" x2="3.567" y2="3.333"/><line x1="3.567" y1="3.333" x2="10.700" y2="0.000"/><line x1="3.567" y1="3.333" x2="0.000" y2="10.000"/><line x1="3.567" y1="3.333" x2="7.133" y2="6.667"/><line x1="7.133" y1="6.667" x2="10.700" y2="0.000"/><line x1="7.133" y1="6.667" x2="0.000" y2="10.000"/><line x1="7.133" y1="6.667" x2="10.700" y2="10.000"/></g><circle cx="0.00" cy="0" r="1.45" fill="#E8B41A"/><circle cx="10.70" cy="0" r="1.45" fill="#E8B41A"/><circle cx="0.00" cy="10.0" r="1.45" fill="#E8B41A"/><circle cx="10.70" cy="10.0" r="1.45" fill="#E8B41A"/><circle cx="3.567" cy="3.333" r="1.4" fill="#EBC02E"/><circle cx="7.133" cy="6.667" r="1.4" fill="#EBC02E"/>
</pattern>
<pattern id="pPd1" x="0" y="0" width="10.7" height="10.0" patternUnits="userSpaceOnUse" patternTransform="translate(93.1 14.0) skewX(25.05)">
 <rect width="10.7" height="10.0" fill="#9CCAD9"/><g stroke="#2F809B" stroke-width="1.25"><line x1="0.000" y1="0.000" x2="3.567" y2="3.333"/><line x1="3.567" y1="3.333" x2="10.700" y2="0.000"/><line x1="3.567" y1="3.333" x2="0.000" y2="10.000"/><line x1="3.567" y1="3.333" x2="7.133" y2="6.667"/><line x1="7.133" y1="6.667" x2="10.700" y2="0.000"/><line x1="7.133" y1="6.667" x2="0.000" y2="10.000"/><line x1="7.133" y1="6.667" x2="10.700" y2="10.000"/></g><circle cx="0.00" cy="0" r="1.45" fill="#1D6A84"/><circle cx="10.70" cy="0" r="1.45" fill="#1D6A84"/><circle cx="0.00" cy="10.0" r="1.45" fill="#1D6A84"/><circle cx="10.70" cy="10.0" r="1.45" fill="#1D6A84"/><circle cx="3.567" cy="3.333" r="1.4" fill="#277891"/><circle cx="7.133" cy="6.667" r="1.4" fill="#277891"/>
</pattern>
<pattern id="pAu3" x="0" y="0" width="10.7" height="10.0" patternUnits="userSpaceOnUse" patternTransform="translate(166.1 14.0) skewX(25.05)">
 <rect width="10.7" height="10.0" fill="#F5E6AE"/><g stroke="#E2BE40" stroke-width="1.25"><line x1="0.000" y1="0.000" x2="3.567" y2="3.333"/><line x1="3.567" y1="3.333" x2="10.700" y2="0.000"/><line x1="3.567" y1="3.333" x2="0.000" y2="10.000"/><line x1="3.567" y1="3.333" x2="7.133" y2="6.667"/><line x1="7.133" y1="6.667" x2="10.700" y2="0.000"/><line x1="7.133" y1="6.667" x2="0.000" y2="10.000"/><line x1="7.133" y1="6.667" x2="10.700" y2="10.000"/></g><circle cx="0.00" cy="0" r="1.45" fill="#E8B41A"/><circle cx="10.70" cy="0" r="1.45" fill="#E8B41A"/><circle cx="0.00" cy="10.0" r="1.45" fill="#E8B41A"/><circle cx="10.70" cy="10.0" r="1.45" fill="#E8B41A"/><circle cx="3.567" cy="3.333" r="1.4" fill="#EBC02E"/><circle cx="7.133" cy="6.667" r="1.4" fill="#EBC02E"/>
</pattern>
<radialGradient id="gAu" cx="0.38" cy="0.35" r="0.7"><stop offset="0" stop-color="#FFF3A0"/><stop offset="0.5" stop-color="#EDC531"/><stop offset="1" stop-color="#B08A10"/></radialGradient>
<radialGradient id="gPd" cx="0.38" cy="0.35" r="0.7"><stop offset="0" stop-color="#8FD0E0"/><stop offset="0.5" stop-color="#2B8098"/><stop offset="1" stop-color="#1A5566"/></radialGradient>
<radialGradient id="gH" cx="0.38" cy="0.35" r="0.7"><stop offset="0" stop-color="#FFFFFF"/><stop offset="0.6" stop-color="#ECECEC"/><stop offset="1" stop-color="#A8A8A8"/></radialGradient>
<radialGradient id="gAq" cx="0.4" cy="0.35" r="0.7"><stop offset="0" stop-color="#E8FFF6"/><stop offset="0.6" stop-color="#A8E8D2"/><stop offset="1" stop-color="#78C8B0"/></radialGradient>
</defs>
<polygon points="21.3,12.1 67.7,12.1 86.6,54.8 40.2,54.8" fill="url(#pAu1)" />
<polygon points="91.3,12.6 137.7,12.6 156.5,54.3 110.1,54.3" fill="url(#pPd1)" />
<polygon points="164.3,12.6 204.6,12.6 224.3,54.3 182.6,54.3" fill="url(#pAu3)" />
<line x1="19.70" y1="13.50" x2="26.50" y2="13.50" stroke="#E2BC3A" stroke-width="0.8" />
<line x1="21.40" y1="10.56" x2="24.80" y2="16.44" stroke="#E2BC3A" stroke-width="0.8" />
<line x1="24.80" y1="10.56" x2="21.40" y2="16.44" stroke="#E2BC3A" stroke-width="0.8" />
<circle cx="23.10" cy="13.50" r="1.2" fill="#E2BC3A"/>
<line x1="30.40" y1="13.50" x2="37.20" y2="13.50" stroke="#E2BC3A" stroke-width="0.8" />
<line x1="32.10" y1="10.56" x2="35.50" y2="16.44" stroke="#E2BC3A" stroke-width="0.8" />
<line x1="35.50" y1="10.56" x2="32.10" y2="16.44" stroke="#E2BC3A" stroke-width="0.8" />
<circle cx="33.80" cy="13.50" r="1.2" fill="#E2BC3A"/>
<line x1="41.10" y1="13.50" x2="47.90" y2="13.50" stroke="#E2BC3A" stroke-width="0.8" />
<line x1="42.80" y1="10.56" x2="46.20" y2="16.44" stroke="#E2BC3A" stroke-width="0.8" />
<line x1="46.20" y1="10.56" x2="42.80" y2="16.44" stroke="#E2BC3A" stroke-width="0.8" />
<circle cx="44.50" cy="13.50" r="1.2" fill="#E2BC3A"/>
<line x1="51.80" y1="13.50" x2="58.60" y2="13.50" stroke="#E2BC3A" stroke-width="0.8" />
<line x1="53.50" y1="10.56" x2="56.90" y2="16.44" stroke="#E2BC3A" stroke-width="0.8" />
<line x1="56.90" y1="10.56" x2="53.50" y2="16.44" stroke="#E2BC3A" stroke-width="0.8" />
<circle cx="55.20" cy="13.50" r="1.2" fill="#E2BC3A"/>
<line x1="62.50" y1="13.50" x2="69.30" y2="13.50" stroke="#E2BC3A" stroke-width="0.8" />
<line x1="64.20" y1="10.56" x2="67.60" y2="16.44" stroke="#E2BC3A" stroke-width="0.8" />
<line x1="67.60" y1="10.56" x2="64.20" y2="16.44" stroke="#E2BC3A" stroke-width="0.8" />
<circle cx="65.90" cy="13.50" r="1.2" fill="#E2BC3A"/>
<line x1="62.50" y1="13.50" x2="69.30" y2="13.50" stroke="#E2BC3A" stroke-width="0.8" />
<line x1="64.20" y1="10.56" x2="67.60" y2="16.44" stroke="#E2BC3A" stroke-width="0.8" />
<line x1="67.60" y1="10.56" x2="64.20" y2="16.44" stroke="#E2BC3A" stroke-width="0.8" />
<circle cx="65.90" cy="13.50" r="1.2" fill="#E2BC3A"/>
<line x1="67.17" y1="23.50" x2="73.98" y2="23.50" stroke="#E2BC3A" stroke-width="0.8" />
<line x1="68.88" y1="20.56" x2="72.28" y2="26.44" stroke="#E2BC3A" stroke-width="0.8" />
<line x1="72.28" y1="20.56" x2="68.88" y2="26.44" stroke="#E2BC3A" stroke-width="0.8" />
<circle cx="70.58" cy="23.50" r="1.2" fill="#E2BC3A"/>
<line x1="71.85" y1="33.50" x2="78.65" y2="33.50" stroke="#E2BC3A" stroke-width="0.8" />
<line x1="73.55" y1="30.56" x2="76.95" y2="36.44" stroke="#E2BC3A" stroke-width="0.8" />
<line x1="76.95" y1="30.56" x2="73.55" y2="36.44" stroke="#E2BC3A" stroke-width="0.8" />
<circle cx="75.25" cy="33.50" r="1.2" fill="#E2BC3A"/>
<line x1="76.52" y1="43.50" x2="83.33" y2="43.50" stroke="#E2BC3A" stroke-width="0.8" />
<line x1="78.22" y1="40.56" x2="81.62" y2="46.44" stroke="#E2BC3A" stroke-width="0.8" />
<line x1="81.62" y1="40.56" x2="78.22" y2="46.44" stroke="#E2BC3A" stroke-width="0.8" />
<circle cx="79.92" cy="43.50" r="1.2" fill="#E2BC3A"/>
<line x1="81.20" y1="53.50" x2="88.00" y2="53.50" stroke="#E2BC3A" stroke-width="0.8" />
<line x1="82.90" y1="50.56" x2="86.30" y2="56.44" stroke="#E2BC3A" stroke-width="0.8" />
<line x1="86.30" y1="50.56" x2="82.90" y2="56.44" stroke="#E2BC3A" stroke-width="0.8" />
<circle cx="84.60" cy="53.50" r="1.2" fill="#E2BC3A"/>
<line x1="81.20" y1="53.50" x2="88.00" y2="53.50" stroke="#E2BC3A" stroke-width="0.8" />
<line x1="82.90" y1="50.56" x2="86.30" y2="56.44" stroke="#E2BC3A" stroke-width="0.8" />
<line x1="86.30" y1="50.56" x2="82.90" y2="56.44" stroke="#E2BC3A" stroke-width="0.8" />
<circle cx="84.60" cy="53.50" r="1.2" fill="#E2BC3A"/>
<line x1="70.50" y1="53.50" x2="77.30" y2="53.50" stroke="#E2BC3A" stroke-width="0.8" />
<line x1="72.20" y1="50.56" x2="75.60" y2="56.44" stroke="#E2BC3A" stroke-width="0.8" />
<line x1="75.60" y1="50.56" x2="72.20" y2="56.44" stroke="#E2BC3A" stroke-width="0.8" />
<circle cx="73.90" cy="53.50" r="1.2" fill="#E2BC3A"/>
<line x1="59.80" y1="53.50" x2="66.60" y2="53.50" stroke="#E2BC3A" stroke-width="0.8" />
<line x1="61.50" y1="50.56" x2="64.90" y2="56.44" stroke="#E2BC3A" stroke-width="0.8" />
<line x1="64.90" y1="50.56" x2="61.50" y2="56.44" stroke="#E2BC3A" stroke-width="0.8" />
<circle cx="63.20" cy="53.50" r="1.2" fill="#E2BC3A"/>
<line x1="49.10" y1="53.50" x2="55.90" y2="53.50" stroke="#E2BC3A" stroke-width="0.8" />
<line x1="50.80" y1="50.56" x2="54.20" y2="56.44" stroke="#E2BC3A" stroke-width="0.8" />
<line x1="54.20" y1="50.56" x2="50.80" y2="56.44" stroke="#E2BC3A" stroke-width="0.8" />
<circle cx="52.50" cy="53.50" r="1.2" fill="#E2BC3A"/>
<line x1="38.40" y1="53.50" x2="45.20" y2="53.50" stroke="#E2BC3A" stroke-width="0.8" />
<line x1="40.10" y1="50.56" x2="43.50" y2="56.44" stroke="#E2BC3A" stroke-width="0.8" />
<line x1="43.50" y1="50.56" x2="40.10" y2="56.44" stroke="#E2BC3A" stroke-width="0.8" />
<circle cx="41.80" cy="53.50" r="1.2" fill="#E2BC3A"/>
<line x1="38.40" y1="53.50" x2="45.20" y2="53.50" stroke="#E2BC3A" stroke-width="0.8" />
<line x1="40.10" y1="50.56" x2="43.50" y2="56.44" stroke="#E2BC3A" stroke-width="0.8" />
<line x1="43.50" y1="50.56" x2="40.10" y2="56.44" stroke="#E2BC3A" stroke-width="0.8" />
<circle cx="41.80" cy="53.50" r="1.2" fill="#E2BC3A"/>
<line x1="33.73" y1="43.50" x2="40.52" y2="43.50" stroke="#E2BC3A" stroke-width="0.8" />
<line x1="35.42" y1="40.56" x2="38.83" y2="46.44" stroke="#E2BC3A" stroke-width="0.8" />
<line x1="38.83" y1="40.56" x2="35.42" y2="46.44" stroke="#E2BC3A" stroke-width="0.8" />
<circle cx="37.12" cy="43.50" r="1.2" fill="#E2BC3A"/>
<line x1="29.05" y1="33.50" x2="35.85" y2="33.50" stroke="#E2BC3A" stroke-width="0.8" />
<line x1="30.75" y1="30.56" x2="34.15" y2="36.44" stroke="#E2BC3A" stroke-width="0.8" />
<line x1="34.15" y1="30.56" x2="30.75" y2="36.44" stroke="#E2BC3A" stroke-width="0.8" />
<circle cx="32.45" cy="33.50" r="1.2" fill="#E2BC3A"/>
<line x1="24.38" y1="23.50" x2="31.17" y2="23.50" stroke="#E2BC3A" stroke-width="0.8" />
<line x1="26.07" y1="20.56" x2="29.47" y2="26.44" stroke="#E2BC3A" stroke-width="0.8" />
<line x1="29.47" y1="20.56" x2="26.07" y2="26.44" stroke="#E2BC3A" stroke-width="0.8" />
<circle cx="27.77" cy="23.50" r="1.2" fill="#E2BC3A"/>
<line x1="19.70" y1="13.50" x2="26.50" y2="13.50" stroke="#E2BC3A" stroke-width="0.8" />
<line x1="21.40" y1="10.56" x2="24.80" y2="16.44" stroke="#E2BC3A" stroke-width="0.8" />
<line x1="24.80" y1="10.56" x2="21.40" y2="16.44" stroke="#E2BC3A" stroke-width="0.8" />
<circle cx="23.10" cy="13.50" r="1.2" fill="#E2BC3A"/>
<line x1="89.70" y1="14.00" x2="96.50" y2="14.00" stroke="#2F7F9A" stroke-width="0.8" />
<line x1="91.40" y1="11.06" x2="94.80" y2="16.94" stroke="#2F7F9A" stroke-width="0.8" />
<line x1="94.80" y1="11.06" x2="91.40" y2="16.94" stroke="#2F7F9A" stroke-width="0.8" />
<circle cx="93.10" cy="14.00" r="1.2" fill="#2F7F9A"/>
<line x1="100.40" y1="14.00" x2="107.20" y2="14.00" stroke="#2F7F9A" stroke-width="0.8" />
<line x1="102.10" y1="11.06" x2="105.50" y2="16.94" stroke="#2F7F9A" stroke-width="0.8" />
<line x1="105.50" y1="11.06" x2="102.10" y2="16.94" stroke="#2F7F9A" stroke-width="0.8" />
<circle cx="103.80" cy="14.00" r="1.2" fill="#2F7F9A"/>
<line x1="111.10" y1="14.00" x2="117.90" y2="14.00" stroke="#2F7F9A" stroke-width="0.8" />
<line x1="112.80" y1="11.06" x2="116.20" y2="16.94" stroke="#2F7F9A" stroke-width="0.8" />
<line x1="116.20" y1="11.06" x2="112.80" y2="16.94" stroke="#2F7F9A" stroke-width="0.8" />
<circle cx="114.50" cy="14.00" r="1.2" fill="#2F7F9A"/>
<line x1="121.80" y1="14.00" x2="128.60" y2="14.00" stroke="#2F7F9A" stroke-width="0.8" />
<line x1="123.50" y1="11.06" x2="126.90" y2="16.94" stroke="#2F7F9A" stroke-width="0.8" />
<line x1="126.90" y1="11.06" x2="123.50" y2="16.94" stroke="#2F7F9A" stroke-width="0.8" />
<circle cx="125.20" cy="14.00" r="1.2" fill="#2F7F9A"/>
<line x1="132.50" y1="14.00" x2="139.30" y2="14.00" stroke="#2F7F9A" stroke-width="0.8" />
<line x1="134.20" y1="11.06" x2="137.60" y2="16.94" stroke="#2F7F9A" stroke-width="0.8" />
<line x1="137.60" y1="11.06" x2="134.20" y2="16.94" stroke="#2F7F9A" stroke-width="0.8" />
<circle cx="135.90" cy="14.00" r="1.2" fill="#2F7F9A"/>
<line x1="132.50" y1="14.00" x2="139.30" y2="14.00" stroke="#2F7F9A" stroke-width="0.8" />
<line x1="134.20" y1="11.06" x2="137.60" y2="16.94" stroke="#2F7F9A" stroke-width="0.8" />
<line x1="137.60" y1="11.06" x2="134.20" y2="16.94" stroke="#2F7F9A" stroke-width="0.8" />
<circle cx="135.90" cy="14.00" r="1.2" fill="#2F7F9A"/>
<line x1="137.17" y1="23.75" x2="143.97" y2="23.75" stroke="#2F7F9A" stroke-width="0.8" />
<line x1="138.88" y1="20.81" x2="142.27" y2="26.69" stroke="#2F7F9A" stroke-width="0.8" />
<line x1="142.27" y1="20.81" x2="138.88" y2="26.69" stroke="#2F7F9A" stroke-width="0.8" />
<circle cx="140.57" cy="23.75" r="1.2" fill="#2F7F9A"/>
<line x1="141.85" y1="33.50" x2="148.65" y2="33.50" stroke="#2F7F9A" stroke-width="0.8" />
<line x1="143.55" y1="30.56" x2="146.95" y2="36.44" stroke="#2F7F9A" stroke-width="0.8" />
<line x1="146.95" y1="30.56" x2="143.55" y2="36.44" stroke="#2F7F9A" stroke-width="0.8" />
<circle cx="145.25" cy="33.50" r="1.2" fill="#2F7F9A"/>
<line x1="146.53" y1="43.25" x2="153.33" y2="43.25" stroke="#2F7F9A" stroke-width="0.8" />
<line x1="148.23" y1="40.31" x2="151.62" y2="46.19" stroke="#2F7F9A" stroke-width="0.8" />
<line x1="151.62" y1="40.31" x2="148.23" y2="46.19" stroke="#2F7F9A" stroke-width="0.8" />
<circle cx="149.93" cy="43.25" r="1.2" fill="#2F7F9A"/>
<line x1="151.20" y1="53.00" x2="158.00" y2="53.00" stroke="#2F7F9A" stroke-width="0.8" />
<line x1="152.90" y1="50.06" x2="156.30" y2="55.94" stroke="#2F7F9A" stroke-width="0.8" />
<line x1="156.30" y1="50.06" x2="152.90" y2="55.94" stroke="#2F7F9A" stroke-width="0.8" />
<circle cx="154.60" cy="53.00" r="1.2" fill="#2F7F9A"/>
<line x1="151.20" y1="53.00" x2="158.00" y2="53.00" stroke="#2F7F9A" stroke-width="0.8" />
<line x1="152.90" y1="50.06" x2="156.30" y2="55.94" stroke="#2F7F9A" stroke-width="0.8" />
<line x1="156.30" y1="50.06" x2="152.90" y2="55.94" stroke="#2F7F9A" stroke-width="0.8" />
<circle cx="154.60" cy="53.00" r="1.2" fill="#2F7F9A"/>
<line x1="140.50" y1="53.00" x2="147.30" y2="53.00" stroke="#2F7F9A" stroke-width="0.8" />
<line x1="142.20" y1="50.06" x2="145.60" y2="55.94" stroke="#2F7F9A" stroke-width="0.8" />
<line x1="145.60" y1="50.06" x2="142.20" y2="55.94" stroke="#2F7F9A" stroke-width="0.8" />
<circle cx="143.90" cy="53.00" r="1.2" fill="#2F7F9A"/>
<line x1="129.80" y1="53.00" x2="136.60" y2="53.00" stroke="#2F7F9A" stroke-width="0.8" />
<line x1="131.50" y1="50.06" x2="134.90" y2="55.94" stroke="#2F7F9A" stroke-width="0.8" />
<line x1="134.90" y1="50.06" x2="131.50" y2="55.94" stroke="#2F7F9A" stroke-width="0.8" />
<circle cx="133.20" cy="53.00" r="1.2" fill="#2F7F9A"/>
<line x1="119.10" y1="53.00" x2="125.90" y2="53.00" stroke="#2F7F9A" stroke-width="0.8" />
<line x1="120.80" y1="50.06" x2="124.20" y2="55.94" stroke="#2F7F9A" stroke-width="0.8" />
<line x1="124.20" y1="50.06" x2="120.80" y2="55.94" stroke="#2F7F9A" stroke-width="0.8" />
<circle cx="122.50" cy="53.00" r="1.2" fill="#2F7F9A"/>
<line x1="108.40" y1="53.00" x2="115.20" y2="53.00" stroke="#2F7F9A" stroke-width="0.8" />
<line x1="110.10" y1="50.06" x2="113.50" y2="55.94" stroke="#2F7F9A" stroke-width="0.8" />
<line x1="113.50" y1="50.06" x2="110.10" y2="55.94" stroke="#2F7F9A" stroke-width="0.8" />
<circle cx="111.80" cy="53.00" r="1.2" fill="#2F7F9A"/>
<line x1="108.40" y1="53.00" x2="115.20" y2="53.00" stroke="#2F7F9A" stroke-width="0.8" />
<line x1="110.10" y1="50.06" x2="113.50" y2="55.94" stroke="#2F7F9A" stroke-width="0.8" />
<line x1="113.50" y1="50.06" x2="110.10" y2="55.94" stroke="#2F7F9A" stroke-width="0.8" />
<circle cx="111.80" cy="53.00" r="1.2" fill="#2F7F9A"/>
<line x1="103.72" y1="43.25" x2="110.53" y2="43.25" stroke="#2F7F9A" stroke-width="0.8" />
<line x1="105.42" y1="40.31" x2="108.83" y2="46.19" stroke="#2F7F9A" stroke-width="0.8" />
<line x1="108.83" y1="40.31" x2="105.42" y2="46.19" stroke="#2F7F9A" stroke-width="0.8" />
<circle cx="107.12" cy="43.25" r="1.2" fill="#2F7F9A"/>
<line x1="99.05" y1="33.50" x2="105.85" y2="33.50" stroke="#2F7F9A" stroke-width="0.8" />
<line x1="100.75" y1="30.56" x2="104.15" y2="36.44" stroke="#2F7F9A" stroke-width="0.8" />
<line x1="104.15" y1="30.56" x2="100.75" y2="36.44" stroke="#2F7F9A" stroke-width="0.8" />
<circle cx="102.45" cy="33.50" r="1.2" fill="#2F7F9A"/>
<line x1="94.37" y1="23.75" x2="101.17" y2="23.75" stroke="#2F7F9A" stroke-width="0.8" />
<line x1="96.07" y1="20.81" x2="99.47" y2="26.69" stroke="#2F7F9A" stroke-width="0.8" />
<line x1="99.47" y1="20.81" x2="96.07" y2="26.69" stroke="#2F7F9A" stroke-width="0.8" />
<circle cx="97.77" cy="23.75" r="1.2" fill="#2F7F9A"/>
<line x1="89.70" y1="14.00" x2="96.50" y2="14.00" stroke="#2F7F9A" stroke-width="0.8" />
<line x1="91.40" y1="11.06" x2="94.80" y2="16.94" stroke="#2F7F9A" stroke-width="0.8" />
<line x1="94.80" y1="11.06" x2="91.40" y2="16.94" stroke="#2F7F9A" stroke-width="0.8" />
<circle cx="93.10" cy="14.00" r="1.2" fill="#2F7F9A"/>
<line x1="162.70" y1="14.00" x2="169.50" y2="14.00" stroke="#E2BC3A" stroke-width="0.8" />
<line x1="164.40" y1="11.06" x2="167.80" y2="16.94" stroke="#E2BC3A" stroke-width="0.8" />
<line x1="167.80" y1="11.06" x2="164.40" y2="16.94" stroke="#E2BC3A" stroke-width="0.8" />
<circle cx="166.10" cy="14.00" r="1.2" fill="#E2BC3A"/>
<line x1="171.88" y1="14.00" x2="178.68" y2="14.00" stroke="#E2BC3A" stroke-width="0.8" />
<line x1="173.58" y1="11.06" x2="176.97" y2="16.94" stroke="#E2BC3A" stroke-width="0.8" />
<line x1="176.97" y1="11.06" x2="173.58" y2="16.94" stroke="#E2BC3A" stroke-width="0.8" />
<circle cx="175.28" cy="14.00" r="1.2" fill="#E2BC3A"/>
<line x1="181.05" y1="14.00" x2="187.85" y2="14.00" stroke="#E2BC3A" stroke-width="0.8" />
<line x1="182.75" y1="11.06" x2="186.15" y2="16.94" stroke="#E2BC3A" stroke-width="0.8" />
<line x1="186.15" y1="11.06" x2="182.75" y2="16.94" stroke="#E2BC3A" stroke-width="0.8" />
<circle cx="184.45" cy="14.00" r="1.2" fill="#E2BC3A"/>
<line x1="190.22" y1="14.00" x2="197.03" y2="14.00" stroke="#E2BC3A" stroke-width="0.8" />
<line x1="191.93" y1="11.06" x2="195.32" y2="16.94" stroke="#E2BC3A" stroke-width="0.8" />
<line x1="195.32" y1="11.06" x2="191.93" y2="16.94" stroke="#E2BC3A" stroke-width="0.8" />
<circle cx="193.62" cy="14.00" r="1.2" fill="#E2BC3A"/>
<line x1="199.40" y1="14.00" x2="206.20" y2="14.00" stroke="#E2BC3A" stroke-width="0.8" />
<line x1="201.10" y1="11.06" x2="204.50" y2="16.94" stroke="#E2BC3A" stroke-width="0.8" />
<line x1="204.50" y1="11.06" x2="201.10" y2="16.94" stroke="#E2BC3A" stroke-width="0.8" />
<circle cx="202.80" cy="14.00" r="1.2" fill="#E2BC3A"/>
<line x1="199.40" y1="14.00" x2="206.20" y2="14.00" stroke="#E2BC3A" stroke-width="0.8" />
<line x1="201.10" y1="11.06" x2="204.50" y2="16.94" stroke="#E2BC3A" stroke-width="0.8" />
<line x1="204.50" y1="11.06" x2="201.10" y2="16.94" stroke="#E2BC3A" stroke-width="0.8" />
<circle cx="202.80" cy="14.00" r="1.2" fill="#E2BC3A"/>
<line x1="204.33" y1="23.75" x2="211.13" y2="23.75" stroke="#E2BC3A" stroke-width="0.8" />
<line x1="206.03" y1="20.81" x2="209.43" y2="26.69" stroke="#E2BC3A" stroke-width="0.8" />
<line x1="209.43" y1="20.81" x2="206.03" y2="26.69" stroke="#E2BC3A" stroke-width="0.8" />
<circle cx="207.73" cy="23.75" r="1.2" fill="#E2BC3A"/>
<line x1="209.25" y1="33.50" x2="216.05" y2="33.50" stroke="#E2BC3A" stroke-width="0.8" />
<line x1="210.95" y1="30.56" x2="214.35" y2="36.44" stroke="#E2BC3A" stroke-width="0.8" />
<line x1="214.35" y1="30.56" x2="210.95" y2="36.44" stroke="#E2BC3A" stroke-width="0.8" />
<circle cx="212.65" cy="33.50" r="1.2" fill="#E2BC3A"/>
<line x1="214.17" y1="43.25" x2="220.97" y2="43.25" stroke="#E2BC3A" stroke-width="0.8" />
<line x1="215.88" y1="40.31" x2="219.27" y2="46.19" stroke="#E2BC3A" stroke-width="0.8" />
<line x1="219.27" y1="40.31" x2="215.88" y2="46.19" stroke="#E2BC3A" stroke-width="0.8" />
<circle cx="217.57" cy="43.25" r="1.2" fill="#E2BC3A"/>
<line x1="219.10" y1="53.00" x2="225.90" y2="53.00" stroke="#E2BC3A" stroke-width="0.8" />
<line x1="220.80" y1="50.06" x2="224.20" y2="55.94" stroke="#E2BC3A" stroke-width="0.8" />
<line x1="224.20" y1="50.06" x2="220.80" y2="55.94" stroke="#E2BC3A" stroke-width="0.8" />
<circle cx="222.50" cy="53.00" r="1.2" fill="#E2BC3A"/>
<line x1="219.10" y1="53.00" x2="225.90" y2="53.00" stroke="#E2BC3A" stroke-width="0.8" />
<line x1="220.80" y1="50.06" x2="224.20" y2="55.94" stroke="#E2BC3A" stroke-width="0.8" />
<line x1="224.20" y1="50.06" x2="220.80" y2="55.94" stroke="#E2BC3A" stroke-width="0.8" />
<circle cx="222.50" cy="53.00" r="1.2" fill="#E2BC3A"/>
<line x1="209.55" y1="53.00" x2="216.35" y2="53.00" stroke="#E2BC3A" stroke-width="0.8" />
<line x1="211.25" y1="50.06" x2="214.65" y2="55.94" stroke="#E2BC3A" stroke-width="0.8" />
<line x1="214.65" y1="50.06" x2="211.25" y2="55.94" stroke="#E2BC3A" stroke-width="0.8" />
<circle cx="212.95" cy="53.00" r="1.2" fill="#E2BC3A"/>
<line x1="200.00" y1="53.00" x2="206.80" y2="53.00" stroke="#E2BC3A" stroke-width="0.8" />
<line x1="201.70" y1="50.06" x2="205.10" y2="55.94" stroke="#E2BC3A" stroke-width="0.8" />
<line x1="205.10" y1="50.06" x2="201.70" y2="55.94" stroke="#E2BC3A" stroke-width="0.8" />
<circle cx="203.40" cy="53.00" r="1.2" fill="#E2BC3A"/>
<line x1="190.45" y1="53.00" x2="197.25" y2="53.00" stroke="#E2BC3A" stroke-width="0.8" />
<line x1="192.15" y1="50.06" x2="195.55" y2="55.94" stroke="#E2BC3A" stroke-width="0.8" />
<line x1="195.55" y1="50.06" x2="192.15" y2="55.94" stroke="#E2BC3A" stroke-width="0.8" />
<circle cx="193.85" cy="53.00" r="1.2" fill="#E2BC3A"/>
<line x1="180.90" y1="53.00" x2="187.70" y2="53.00" stroke="#E2BC3A" stroke-width="0.8" />
<line x1="182.60" y1="50.06" x2="186.00" y2="55.94" stroke="#E2BC3A" stroke-width="0.8" />
<line x1="186.00" y1="50.06" x2="182.60" y2="55.94" stroke="#E2BC3A" stroke-width="0.8" />
<circle cx="184.30" cy="53.00" r="1.2" fill="#E2BC3A"/>
<line x1="180.90" y1="53.00" x2="187.70" y2="53.00" stroke="#E2BC3A" stroke-width="0.8" />
<line x1="182.60" y1="50.06" x2="186.00" y2="55.94" stroke="#E2BC3A" stroke-width="0.8" />
<line x1="186.00" y1="50.06" x2="182.60" y2="55.94" stroke="#E2BC3A" stroke-width="0.8" />
<circle cx="184.30" cy="53.00" r="1.2" fill="#E2BC3A"/>
<line x1="176.35" y1="43.25" x2="183.15" y2="43.25" stroke="#E2BC3A" stroke-width="0.8" />
<line x1="178.05" y1="40.31" x2="181.45" y2="46.19" stroke="#E2BC3A" stroke-width="0.8" />
<line x1="181.45" y1="40.31" x2="178.05" y2="46.19" stroke="#E2BC3A" stroke-width="0.8" />
<circle cx="179.75" cy="43.25" r="1.2" fill="#E2BC3A"/>
<line x1="171.80" y1="33.50" x2="178.60" y2="33.50" stroke="#E2BC3A" stroke-width="0.8" />
<line x1="173.50" y1="30.56" x2="176.90" y2="36.44" stroke="#E2BC3A" stroke-width="0.8" />
<line x1="176.90" y1="30.56" x2="173.50" y2="36.44" stroke="#E2BC3A" stroke-width="0.8" />
<circle cx="175.20" cy="33.50" r="1.2" fill="#E2BC3A"/>
<line x1="167.25" y1="23.75" x2="174.05" y2="23.75" stroke="#E2BC3A" stroke-width="0.8" />
<line x1="168.95" y1="20.81" x2="172.35" y2="26.69" stroke="#E2BC3A" stroke-width="0.8" />
<line x1="172.35" y1="20.81" x2="168.95" y2="26.69" stroke="#E2BC3A" stroke-width="0.8" />
<circle cx="170.65" cy="23.75" r="1.2" fill="#E2BC3A"/>
<line x1="162.70" y1="14.00" x2="169.50" y2="14.00" stroke="#E2BC3A" stroke-width="0.8" />
<line x1="164.40" y1="11.06" x2="167.80" y2="16.94" stroke="#E2BC3A" stroke-width="0.8" />
<line x1="167.80" y1="11.06" x2="164.40" y2="16.94" stroke="#E2BC3A" stroke-width="0.8" />
<circle cx="166.10" cy="14.00" r="1.2" fill="#E2BC3A"/>
<line x1="177.20" y1="17.80" x2="177.20" y2="24.60" stroke="#2A7A92" stroke-width="1.3" />
<line x1="180.14" y1="19.50" x2="174.26" y2="22.90" stroke="#2A7A92" stroke-width="1.3" />
<line x1="180.14" y1="22.90" x2="174.26" y2="19.50" stroke="#2A7A92" stroke-width="1.3" />
<circle cx="177.2" cy="21.2" r="1.6" fill="#1E6A84"/>
<line x1="205.00" y1="15.20" x2="205.00" y2="22.00" stroke="#2A7A92" stroke-width="1.3" />
<line x1="207.94" y1="16.90" x2="202.06" y2="20.30" stroke="#2A7A92" stroke-width="1.3" />
<line x1="207.94" y1="20.30" x2="202.06" y2="16.90" stroke="#2A7A92" stroke-width="1.3" />
<circle cx="205.0" cy="18.6" r="1.6" fill="#1E6A84"/>
<line x1="194.50" y1="26.50" x2="194.50" y2="33.30" stroke="#2A7A92" stroke-width="1.3" />
<line x1="197.44" y1="28.20" x2="191.56" y2="31.60" stroke="#2A7A92" stroke-width="1.3" />
<line x1="197.44" y1="31.60" x2="191.56" y2="28.20" stroke="#2A7A92" stroke-width="1.3" />
<circle cx="194.5" cy="29.9" r="1.6" fill="#1E6A84"/>
<line x1="182.90" y1="34.20" x2="182.90" y2="41.00" stroke="#2A7A92" stroke-width="1.3" />
<line x1="185.84" y1="35.90" x2="179.96" y2="39.30" stroke="#2A7A92" stroke-width="1.3" />
<line x1="185.84" y1="39.30" x2="179.96" y2="35.90" stroke="#2A7A92" stroke-width="1.3" />
<circle cx="182.9" cy="37.6" r="1.6" fill="#1E6A84"/>
<line x1="200.30" y1="37.10" x2="200.30" y2="43.90" stroke="#2A7A92" stroke-width="1.3" />
<line x1="203.24" y1="38.80" x2="197.36" y2="42.20" stroke="#2A7A92" stroke-width="1.3" />
<line x1="203.24" y1="42.20" x2="197.36" y2="38.80" stroke="#2A7A92" stroke-width="1.3" />
<circle cx="200.3" cy="40.5" r="1.6" fill="#1E6A84"/>
<line x1="205.80" y1="34.20" x2="205.80" y2="41.00" stroke="#2A7A92" stroke-width="1.3" />
<line x1="208.74" y1="35.90" x2="202.86" y2="39.30" stroke="#2A7A92" stroke-width="1.3" />
<line x1="208.74" y1="39.30" x2="202.86" y2="35.90" stroke="#2A7A92" stroke-width="1.3" />
<circle cx="205.8" cy="37.6" r="1.6" fill="#1E6A84"/>
<circle cx="55.5" cy="30" r="1.2" fill="#FAFAFA"/>
<circle cx="124.5" cy="37.5" r="1.3" fill="#FAFAFA"/>
<circle cx="198" cy="35" r="1.2" fill="#F4F4F4"/>
<line x1="34.50" y1="57.00" x2="34.50" y2="127.50" stroke="#C4C4C4" stroke-width="0.6" stroke-dasharray="0.6 1.5"/>
<line x1="41.20" y1="57.00" x2="41.20" y2="127.50" stroke="#C4C4C4" stroke-width="0.6" stroke-dasharray="0.6 1.5"/>
<line x1="81.30" y1="57.00" x2="81.30" y2="127.50" stroke="#C4C4C4" stroke-width="0.6" stroke-dasharray="0.6 1.5"/>
<line x1="88.00" y1="57.00" x2="88.00" y2="127.50" stroke="#C4C4C4" stroke-width="0.6" stroke-dasharray="0.6 1.5"/>
<line x1="34.50" y1="127.50" x2="88.00" y2="127.50" stroke="#C4C4C4" stroke-width="0.6" stroke-dasharray="0.6 1.5"/>
<line x1="106.70" y1="57.00" x2="106.70" y2="127.50" stroke="#C4C4C4" stroke-width="0.6" stroke-dasharray="0.6 1.5"/>
<line x1="112.50" y1="57.00" x2="112.50" y2="127.50" stroke="#C4C4C4" stroke-width="0.6" stroke-dasharray="0.6 1.5"/>
<line x1="152.50" y1="57.00" x2="152.50" y2="127.50" stroke="#C4C4C4" stroke-width="0.6" stroke-dasharray="0.6 1.5"/>
<line x1="158.00" y1="57.00" x2="158.00" y2="127.50" stroke="#C4C4C4" stroke-width="0.6" stroke-dasharray="0.6 1.5"/>
<line x1="106.70" y1="127.50" x2="158.00" y2="127.50" stroke="#C4C4C4" stroke-width="0.6" stroke-dasharray="0.6 1.5"/>
<line x1="175.60" y1="57.00" x2="175.60" y2="126.50" stroke="#C4C4C4" stroke-width="0.6" stroke-dasharray="0.6 1.5"/>
<line x1="183.40" y1="57.00" x2="183.40" y2="126.50" stroke="#C4C4C4" stroke-width="0.6" stroke-dasharray="0.6 1.5"/>
<line x1="219.00" y1="57.00" x2="219.00" y2="126.50" stroke="#C4C4C4" stroke-width="0.6" stroke-dasharray="0.6 1.5"/>
<line x1="224.60" y1="57.00" x2="224.60" y2="126.50" stroke="#C4C4C4" stroke-width="0.6" stroke-dasharray="0.6 1.5"/>
<line x1="175.60" y1="126.50" x2="224.60" y2="126.50" stroke="#C4C4C4" stroke-width="0.6" stroke-dasharray="0.6 1.5"/>
<polygon points="28.5,104.2 93.5,102.0 90.5,124.39999999999999 31.5,126.6" fill="#FDF7E0"/>
<polygon points="28.5,104.2 93.5,102.0 92.5,104.6 29.5,106.8" fill="#F4D458"/>
<polygon points="30.0,114.10000000000001 92.0,111.9 91.0,114.5 31.0,116.7" fill="#F4D458"/>
<polygon points="30.0,124.0 92.0,121.8 91.0,124.39999999999999 31.0,126.6" fill="#F4D458"/>
<polyline points="30.5,114.0 34.3,106.6 38.1,113.8 41.9,106.3 45.8,113.5 49.6,106.1 53.4,113.3 57.2,105.8 61.0,113.0 64.8,105.6 68.6,112.7 72.4,105.3 76.2,112.5 80.1,105.1 83.9,112.2 87.7,104.8 91.5,112.0" fill="none" stroke="#F4D458" stroke-width="1.2" stroke-linejoin="round"/>
<polyline points="30.5,123.9 34.3,116.5 38.1,123.7 41.9,116.2 45.8,123.4 49.6,116.0 53.4,123.2 57.2,115.7 61.0,122.9 64.8,115.5 68.6,122.6 72.4,115.2 76.2,122.4 80.1,115.0 83.9,122.1 87.7,114.7 91.5,121.9" fill="none" stroke="#F4D458" stroke-width="1.2" stroke-linejoin="round"/>
<polygon points="100.5,104.0 163.0,101.8 160.0,124.39999999999999 103.5,126.6" fill="#E4F2F6"/>
<polygon points="100.5,104.0 163.0,101.8 162.0,104.39999999999999 101.5,106.6" fill="#62ABC4"/>
<polygon points="102.0,114.0 161.5,111.8 160.5,114.39999999999999 103.0,116.6" fill="#62ABC4"/>
<polygon points="102.0,124.0 161.5,121.8 160.5,124.39999999999999 103.0,126.6" fill="#62ABC4"/>
<polyline points="102.5,113.9 106.4,106.4 110.3,113.7 114.2,106.1 118.1,113.4 122.0,105.8 125.9,113.1 129.8,105.6 133.7,112.8 137.6,105.3 141.5,112.6 145.4,105.0 149.3,112.3 153.2,104.7 157.1,112.0 161.0,104.5" fill="none" stroke="#62ABC4" stroke-width="1.2" stroke-linejoin="round"/>
<polyline points="102.5,123.9 106.4,116.4 110.3,123.7 114.2,116.1 118.1,123.4 122.0,115.8 125.9,123.1 129.8,115.6 133.7,122.8 137.6,115.3 141.5,122.6 145.4,115.0 149.3,122.3 153.2,114.7 157.1,122.0 161.0,114.5" fill="none" stroke="#62ABC4" stroke-width="1.2" stroke-linejoin="round"/>
<circle cx="131" cy="103.5" r="1.5" fill="#2436A8" opacity="0.75"/>
<circle cx="134.5" cy="102.8" r="1.7" fill="#2436A8" opacity="0.75"/>
<circle cx="138.5" cy="103.6" r="1.5" fill="#2436A8" opacity="0.75"/>
<circle cx="142" cy="104.2" r="1.6" fill="#2436A8" opacity="0.75"/>
<circle cx="145.5" cy="103.2" r="1.2" fill="#2436A8" opacity="0.75"/>
<circle cx="123" cy="115" r="1.3" fill="#2436A8" opacity="0.75"/>
<circle cx="126.5" cy="116" r="1.5" fill="#2436A8" opacity="0.75"/>
<circle cx="134" cy="115.5" r="1.6" fill="#2436A8" opacity="0.75"/>
<circle cx="137" cy="117" r="1.2" fill="#2436A8" opacity="0.75"/>
<circle cx="146" cy="115" r="1.4" fill="#2436A8" opacity="0.75"/>
<circle cx="150" cy="116.5" r="1.2" fill="#2436A8" opacity="0.75"/>
<circle cx="124" cy="122" r="1.0" fill="#2436A8" opacity="0.75"/>
<circle cx="138" cy="122.5" r="1.1" fill="#2436A8" opacity="0.75"/>
<circle cx="148" cy="122" r="1.0" fill="#2436A8" opacity="0.75"/>
<polygon points="172.5,83.4 227.5,82.0 224.5,95.39999999999999 175.5,96.8" fill="#FBF7E8"/>
<polygon points="172.5,83.4 227.5,82.0 226.5,84.6 173.5,86.0" fill="#F2CF48"/>
<polygon points="174.0,94.2 226.0,92.8 225.0,95.39999999999999 175.0,96.8" fill="#F2CF48"/>
<polyline points="174.5,94.1 178.4,85.8 182.3,93.9 186.3,85.6 190.2,93.7 194.1,85.4 198.0,93.5 202.0,85.3 205.9,93.4 209.8,85.1 213.7,93.2 217.7,84.9 221.6,93.0 225.5,84.7" fill="none" stroke="#F2CF48" stroke-width="0.9" stroke-linejoin="round"/>
<circle cx="186.5" cy="81.5" r="1.8" fill="#2846B0" opacity="0.85"/>
<circle cx="190.5" cy="80.5" r="1.7" fill="#2846B0" opacity="0.85"/>
<circle cx="195" cy="82.5" r="1.5" fill="#2846B0" opacity="0.85"/>
<circle cx="199" cy="81.5" r="2.0" fill="#2846B0" opacity="0.85"/>
<circle cx="203" cy="83" r="1.6" fill="#2846B0" opacity="0.85"/>
<circle cx="207" cy="84" r="1.0" fill="#2846B0" opacity="0.85"/>
<circle cx="192" cy="88" r="1.0" fill="#2846B0" opacity="0.85"/>
<circle cx="184" cy="90" r="0.9" fill="#2846B0" opacity="0.85"/>
<circle cx="199" cy="90" r="0.9" fill="#2846B0" opacity="0.85"/>
<circle cx="206" cy="92" r="0.9" fill="#2846B0" opacity="0.85"/>
<circle cx="211" cy="87.5" r="0.9" fill="#2846B0" opacity="0.85"/>
<circle cx="216" cy="86" r="0.7" fill="#2846B0" opacity="0.85"/>
<circle cx="180" cy="86" r="0.7" fill="#2846B0" opacity="0.85"/>
<circle cx="189" cy="86" r="0.9" fill="#6AC0D8" opacity="0.8"/>
<circle cx="196" cy="87" r="0.9" fill="#6AC0D8" opacity="0.8"/>
<circle cx="203" cy="88" r="0.9" fill="#6AC0D8" opacity="0.8"/>
<circle cx="210" cy="90" r="0.9" fill="#6AC0D8" opacity="0.8"/>
<circle cx="185" cy="92" r="0.9" fill="#6AC0D8" opacity="0.8"/>
<polygon points="173.5,102.39999999999999 228.0,100.8 225.0,122.4 176.5,124.0" fill="#FDF8E4"/>
<polygon points="173.5,102.39999999999999 228.0,100.8 227.0,103.2 174.5,104.8" fill="#F6DA6A"/>
<polygon points="175.0,111.99999999999999 226.5,110.39999999999999 225.5,112.8 176.0,114.39999999999999" fill="#F6DA6A"/>
<polygon points="175.0,121.6 226.5,120.0 225.5,122.4 176.0,124.0" fill="#F6DA6A"/>
<polyline points="175.5,111.9 179.4,104.6 183.3,111.7 187.2,104.4 191.0,111.5 194.9,104.2 198.8,111.3 202.7,103.9 206.6,111.0 210.5,103.7 214.3,110.8 218.2,103.5 222.1,110.6 226.0,103.3" fill="none" stroke="#F6DA6A" stroke-width="1.1" stroke-linejoin="round"/>
<polyline points="175.5,121.5 179.4,114.2 183.3,121.3 187.2,114.0 191.0,121.1 194.9,113.8 198.8,120.9 202.7,113.5 206.6,120.6 210.5,113.3 214.3,120.4 218.2,113.1 222.1,120.2 226.0,112.9" fill="none" stroke="#F6DA6A" stroke-width="1.1" stroke-linejoin="round"/>
<circle cx="61.3" cy="92.3" r="2.0" fill="url(#gAq)"/>
<ellipse cx="61.2" cy="99.2" rx="2.9" ry="1.4" fill="url(#gAq)"/>
<circle cx="61.2" cy="101.8" r="1.0" fill="#3040B0"/>
<circle cx="138.5" cy="95.2" r="3.0" fill="url(#gAq)"/>
<ellipse cx="138.5" cy="100" rx="2.2" ry="1.6" fill="#A8E0D0"/>
<circle cx="196.5" cy="76.3" r="3.0" fill="url(#gAq)"/>
<ellipse cx="196.5" cy="80.0" rx="2.4" ry="1.6" fill="#A8E0D0"/>
<circle cx="34.5" cy="127.2" r="0.9" fill="#E33"/>
<circle cx="106.7" cy="127.2" r="0.9" fill="#E33"/>
<circle cx="175.6" cy="127.2" r="0.9" fill="#E33"/>
<circle cx="34.6" cy="138.7" r="4.8" fill="url(#gAu)"/>
<circle cx="57.8" cy="138.7" r="4.8" fill="url(#gPd)"/>
<circle cx="81.0" cy="138.7" r="4.8" fill="url(#gH)"/>
<text x="35.90" y="155.90" font-size="10.2" font-weight="bold" fill="#111" text-anchor="middle" stroke="#111" stroke-width="0.22" >Au</text>
<text x="58.50" y="155.90" font-size="10.2" font-weight="bold" fill="#111" text-anchor="middle" stroke="#111" stroke-width="0.22" >Pd</text>
<text x="80.80" y="155.90" font-size="10.2" font-weight="bold" fill="#111" text-anchor="middle" stroke="#111" stroke-width="0.22" >H</text>
<rect x="105.50" y="138.60" width="40.00" height="3.40" fill="#0A0AEE" />
<rect x="180.10" y="136.60" width="40.40" height="5.60" fill="#8EF5D8" />
<text x="128.50" y="155.90" font-size="10.0" font-weight="bold" fill="#111" text-anchor="middle" stroke="#111" stroke-width="0.22" >accumulation</text>
<text x="200.30" y="155.90" font-size="10.0" font-weight="bold" fill="#111" text-anchor="middle" stroke="#111" stroke-width="0.22" >depletion</text>
</svg></body></html>
